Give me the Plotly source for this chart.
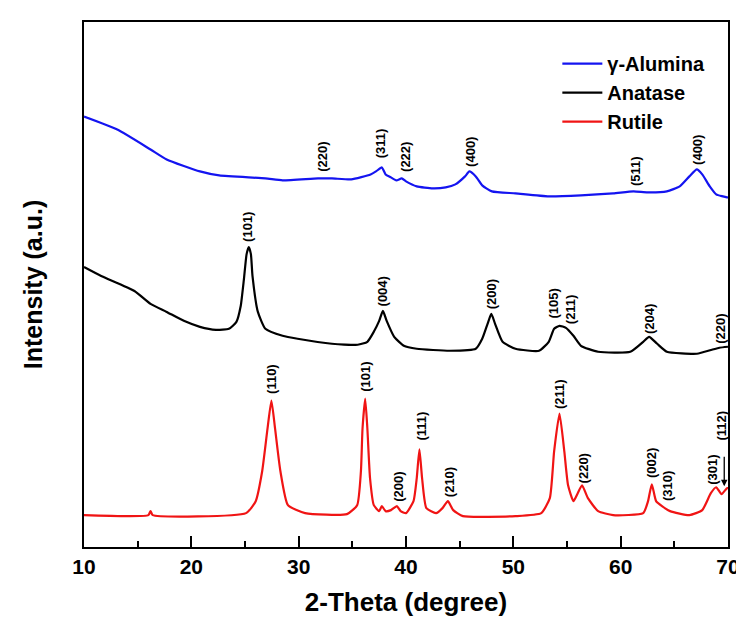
import plotly.graph_objects as go

# ---------------- data ----------------
alumina_x = [10.0, 13.1, 16.2, 17.7, 20.8, 22.6, 26.9, 28.5, 31.8, 33.1, 34.9, 36.7, 37.2, 37.75, 38.1,
             38.6, 39.1, 39.6, 40.0, 41.0, 42.5, 43.7, 44.6, 45.5, 45.9, 46.5, 47.1, 48.0, 50.2, 53.3,
             56.3, 59.3, 61.2, 62.5, 64.3, 65.5, 66.4, 67.1, 67.6, 68.3, 68.9, 69.9, 70.0]
alumina_y = [432, 419, 399, 389, 377, 373, 370, 368, 370, 370, 369, 374, 377, 381, 374,
             371, 368, 370, 367, 362, 360, 361, 364, 372, 377, 372, 363, 357, 355, 352,
             353, 355, 357, 356, 357, 362, 372, 379, 374, 362, 354, 351, 351]

anatase_x = [10.0, 11.6, 14.7, 16.2, 17.7, 19.3, 20.8, 22.3, 23.5, 24.2, 24.6, 24.9, 25.15, 25.35, 25.55,
             25.7, 26.2, 26.9, 28.5, 29.9, 33.1, 35.5, 36.4, 37.0, 37.5, 37.85, 38.2, 38.9, 39.8, 41.0,
             44.1, 46.5, 47.1, 47.6, 47.95, 48.3, 49.0, 50.2, 52.4, 53.3, 53.8, 54.3, 54.9, 55.6, 56.3,
             57.9, 60.9, 62.1, 62.65, 63.4, 64.3, 67.1, 68.5, 69.2, 70.0]
anatase_y = [281, 272, 257, 244, 236, 227, 221, 218, 219, 226, 242, 269, 294, 301, 294,
             272, 236, 219, 212, 209, 204, 203, 206, 216, 227, 237, 227, 211, 202, 199,
             197, 199, 209, 224, 234, 224, 206, 199, 197, 206, 219, 222, 220, 212, 202,
             196, 196, 206, 211, 204, 196, 194, 198, 200, 201]

rutile_x = [10.0, 16.0, 16.2, 16.4, 25.1, 26.0, 26.6, 27.1, 27.46, 27.8, 28.3, 29.0, 30.6, 34.5, 35.45,
            35.8, 35.95, 36.2, 36.4, 36.65, 37.0, 37.5, 37.75, 38.1, 38.6, 39.15, 39.5, 40.0, 40.7, 41.0,
            41.25, 41.5, 41.9, 42.8, 43.4, 43.9, 44.4, 45.3, 50.2, 52.6, 53.4, 53.8, 54.3, 54.75, 55.1,
            55.6, 56.0, 56.4, 56.95, 57.9, 59.3, 62.1, 62.55, 62.9, 63.3, 63.85, 64.6, 66.4, 67.6, 68.4,
            68.9, 69.4, 69.9, 70.0]
rutile_y = [32, 32, 36, 32, 34, 46, 76, 119, 147, 119, 76, 42, 34, 33, 42,
            76, 119, 149, 119, 69, 42, 36, 41, 36, 37, 41, 36, 34, 46, 69,
            98, 69, 39, 34, 39, 46, 37, 31, 31, 34, 49, 96, 134, 96, 62,
            46, 54, 62, 49, 36, 32, 34, 46, 63, 46, 41, 36, 32, 37, 54,
            60, 53, 59, 59]

alumina_lbl = ["(220)", "(311)", "(222)", "(400)", "(511)", "(400)"]
alumina_lbl_x = [32.2, 37.65, 39.95, 46.0, 61.4, 67.15]
alumina_lbl_y = [392, 405, 392, 397, 377, 399]

anatase_lbl = ["(101)", "(004)", "(200)", "(105)", "(211)", "(204)", "(220)"]
anatase_lbl_x = [25.25, 37.9, 48.05, 53.75, 55.4, 62.75, 69.35]
anatase_lbl_y = [321, 257, 254, 244, 239, 229, 219]

rutile_lbl = ["(110)", "(101)", "(200)", "(111)", "(210)", "(211)", "(220)", "(002)", "(310)", "(301)", "(112)"]
rutile_lbl_x = [27.45, 36.2, 39.3, 41.4, 44.0, 54.3, 56.5, 62.9, 64.3, 68.55, 69.35]
rutile_lbl_y = [169, 171, 61, 121, 65, 154, 79, 84, 61, 78, 122]

x_ticks = [10, 20, 30, 40, 50, 60, 70]

# ---------------- figure ----------------
FONT = "Arial, Liberation Sans, sans-serif"
fig = go.Figure()
series = [("γ-Alumina", alumina_x, alumina_y, "#1414F0"),
          ("Anatase", anatase_x, anatase_y, "#000000"),
          ("Rutile", rutile_x, rutile_y, "#F01414")]
for name, xs, ys, col in series:
    fig.add_trace(go.Scatter(x=xs, y=ys, mode="lines", name=name,
                             line=dict(color=col, width=2.2, shape="spline", smoothing=0.5)))

for labels, lx, ly in [(alumina_lbl, alumina_lbl_x, alumina_lbl_y),
                       (anatase_lbl, anatase_lbl_x, anatase_lbl_y),
                       (rutile_lbl, rutile_lbl_x, rutile_lbl_y)]:
    for t, xx, yy in zip(labels, lx, ly):
        fig.add_annotation(x=xx, y=yy, text=t, showarrow=False, textangle=-90,
                           font=dict(family=FONT, size=13, color="black", weight="bold"))

# arrow pointing to the (112) reflection
fig.add_annotation(x=69.65, y=61, ax=69.65, ay=92, xref="x", yref="y", axref="x", ayref="y",
                   text="", showarrow=True, arrowhead=2, arrowsize=1, arrowwidth=1.3, arrowcolor="black")

fig.update_layout(
    width=744, height=617,
    margin=dict(l=76, r=15, t=12, b=78),
    paper_bgcolor="white", plot_bgcolor="white",
    font=dict(family=FONT, color="black"),
    legend=dict(x=0.735, y=0.958, xanchor="left", yanchor="top",
                font=dict(family=FONT, size=20, color="black", weight="bold"),
                bgcolor="rgba(0,0,0,0)", tracegroupgap=0, itemwidth=40),
    showlegend=True,
)
fig.update_xaxes(range=[10, 70], tickvals=x_ticks, ticks="inside", ticklen=11, tickwidth=1.5,
                 tickcolor="black", minor=dict(dtick=5, tick0=10, ticks="inside", ticklen=6, tickwidth=1.5, tickcolor="black"),
                 showline=True, linecolor="black", linewidth=2, mirror=True, showgrid=False, zeroline=False,
                 tickfont=dict(family=FONT, size=21, color="black", weight="bold"),
                 title=dict(text="2-Theta (degree)", standoff=16,
                            font=dict(family=FONT, size=26, color="black", weight="bold")))
fig.update_yaxes(range=[0, 527], showticklabels=False, ticks="", showline=True, linecolor="black",
                 linewidth=2, mirror=True, showgrid=False, zeroline=False,
                 title=dict(text="Intensity (a.u.)", standoff=32,
                            font=dict(family=FONT, size=25, color="black", weight="bold")))

fig.write_html("out.html")
